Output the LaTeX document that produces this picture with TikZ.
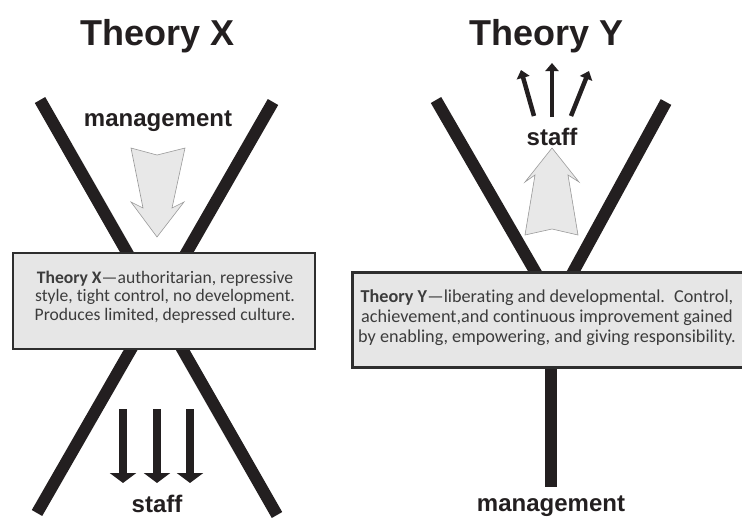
\documentclass[tikz,border=0pt]{standalone}
\usepackage{fontspec}
\setmainfont{Carlito}[Ligatures=NoCommon]
\newfontfamily\headfont{Liberation Sans}
\usetikzlibrary{arrows.meta}
\definecolor{barc}{HTML}{231F20}
\definecolor{boxfill}{HTML}{E6E6E6}
\definecolor{boxline}{HTML}{2E2E2E}
\definecolor{txtc}{HTML}{3C3C3C}
\definecolor{grayarrow}{HTML}{E8E8E8}
\definecolor{grayedge}{HTML}{9A9A9A}
\tikzset{
  bar/.style={draw=barc, line width=12pt, line cap=butt},
  box/.style={draw=boxline, fill=boxfill, line width=2.5pt, inner sep=0pt},
  boxtext/.style={align=center, inner sep=0pt, text=txtc, font=\fontsize{17.6}{18.6}\selectfont},
  title/.style={font=\headfont\bfseries\fontsize{36}{40}\selectfont, text=barc, anchor=base, inner sep=0pt},
  label/.style={font=\headfont\bfseries\fontsize{24}{28}\selectfont, text=barc, anchor=base, inner sep=0pt},
  bigarrow/.style={fill=grayarrow, draw=grayedge, line width=0.6pt, line join=miter},
  staffdown/.style={draw=barc, line width=8pt, -{Triangle[width=26pt,length=10pt]}},
  staffup/.style={draw=barc, line width=4.5pt, -{Triangle[width=13pt,length=8pt]}},
}
\begin{document}
\begin{tikzpicture}[x=1pt,y=-1pt]
\useasboundingbox (0,0) rectangle (742,517);
\clip (0,0) rectangle (742,517);

% ---------- Theory X ----------
\node[title] (titleX) at (158,45) {Theory X};
\coordinate (xa1) at (40,100);
\coordinate (xa2) at (277,515);
\coordinate (xb1) at (273,102);
\coordinate (xb2) at (37,513);
\draw[bar] (xa1) -- (xa2);
\draw[bar] (xb1) -- (xb2);

\node[label] (mgmtX) at (158,126) {management};
\filldraw[bigarrow] (131,148) -- (157,155) -- (185,148) -- (172,208) -- (184,202)
  -- (157,237) -- (131,202) -- (143,208) -- cycle;

\node[box, minimum width=302pt, minimum height=96pt] (boxX) at (164,301) {};
\node[boxtext] (txtX) at (165,297) {\textbf{Theory X}—authoritarian, repressive\\style, tight control, no development.\\Produces limited, depressed culture.};

\coordinate (sx1a) at (123,409); \coordinate (sx1b) at (123,483);
\coordinate (sx2a) at (157,409); \coordinate (sx2b) at (157,483);
\coordinate (sx3a) at (190,409); \coordinate (sx3b) at (190,483);
\draw[staffdown] (sx1a) -- (sx1b);
\draw[staffdown] (sx2a) -- (sx2b);
\draw[staffdown] (sx3a) -- (sx3b);
\node[label] (staffX) at (157,512) {staff};

% ---------- Theory Y ----------
\node[title] (titleY) at (547,45) {Theory Y};
\coordinate (ya1) at (436,100);
\coordinate (ya2) at (562,318);
\coordinate (yb1) at (666,102);
\coordinate (yb2) at (548,318);
\coordinate (ys1) at (551,300);
\coordinate (ys2) at (551,487);
\draw[bar] (ya1) -- (ya2);
\draw[bar] (yb1) -- (yb2);
\draw[bar] (ys1) -- (ys2);

\coordinate (su1a) at (552,117); \coordinate (su1b) at (552,63);
\coordinate (su2a) at (534,116); \coordinate (su2b) at (521,70);
\coordinate (su3a) at (571,116); \coordinate (su3b) at (589,71);
\draw[staffup] (su1a) -- (su1b);
\draw[staffup] (su2a) -- (su2b);
\draw[staffup] (su3a) -- (su3b);
\node[label] (staffY) at (552,145) {staff};

\filldraw[bigarrow] (552,148) -- (579,182) -- (568,175) -- (578,235) -- (552,229)
  -- (525,235) -- (535,175) -- (525,182) -- cycle;

\node[box, minimum width=420pt, minimum height=95pt, anchor=north west] (boxY) at (351,271) {};
\node[boxtext, font=\fontsize{18.2}{20}\selectfont] (txtY) at (547,318) {\textbf{Theory Y}—liberating and developmental.\hspace{0.5em}Control,\\achievement,and continuous improvement gained\\by enabling, empowering, and giving responsibility.};

\node[label] (mgmtY) at (551,511) {management};
\end{tikzpicture}
\end{document}
